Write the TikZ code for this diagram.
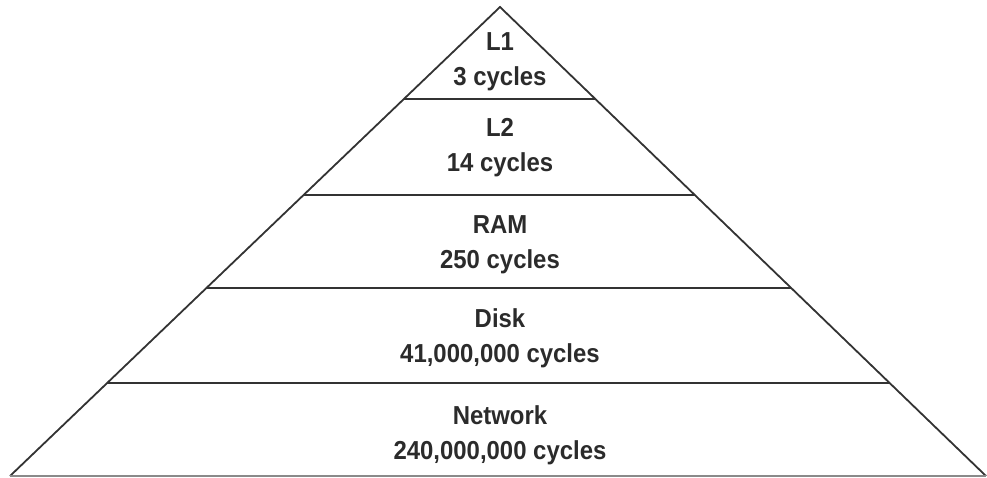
\documentclass[tikz,border=0pt]{standalone}
\usepackage{fontspec}
\setmainfont{Liberation Sans}[FakeStretch=0.92]
\usetikzlibrary{calc}
\definecolor{edgegray}{HTML}{333333}
\definecolor{basegray}{HTML}{8A8A8A}
\definecolor{textgray}{HTML}{2B2B2B}
\begin{document}
\begin{tikzpicture}[x=1pt,y=-1pt,
  side/.style={draw=edgegray,line width=1.8pt},
  layer/.style={draw=edgegray,line width=2.4pt},
  lbl/.style={anchor=north,inner sep=0,align=center,text=textgray,
    font=\fontsize{26}{35}\selectfont\bfseries}]
\useasboundingbox (0,0) rectangle (987,477);
\coordinate (apex) at (500,7);
\coordinate (bl) at (10,476);
\coordinate (br) at (986,476);
\draw[side] (bl)--(apex)--(br);
\draw[draw=basegray,line width=1.2pt] (bl)--(br);
\foreach \y/\n in {99/a,195/b,288/c,383/d}{
  \coordinate (l\n) at ($(apex)!{(\y-7)/469}!(bl)$);
  \coordinate (r\n) at ($(apex)!{(\y-7)/469}!(br)$);
  \draw[layer] (l\n)--(r\n);
}
\node[lbl] (cache1) at (500,32) {L1\\3 cycles};
\node[lbl] (cache2) at (500,118) {L2\\14 cycles};
\node[lbl] (ram) at (500,215) {RAM\\250 cycles};
\node[lbl] (disk) at (500,308) {Disk\\41,000,000 cycles};
\node[lbl] (net) at (500,405) {Network\\240,000,000 cycles};
\end{tikzpicture}
\end{document}
